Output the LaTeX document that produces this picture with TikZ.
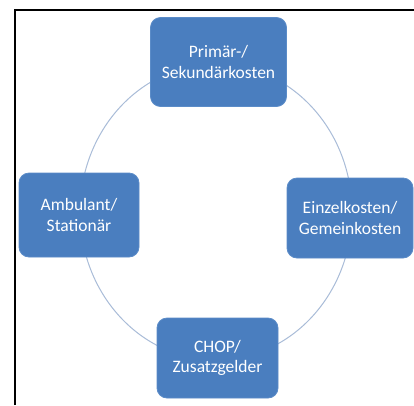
\documentclass[tikz,border=0pt]{standalone}
\usepackage{fontspec}
\setmainfont{Carlito}
\definecolor{boxblue}{HTML}{4A7EBF}
\definecolor{boxedge}{HTML}{5B8CC8}
\definecolor{ringblue}{HTML}{A9BCD8}
\begin{document}
\begin{tikzpicture}[x=1pt,y=-1pt,
  cyclebox/.style={draw=boxedge, line width=0.8pt, fill=boxblue, rounded corners=10pt,
    text=white, align=center, inner sep=0pt,
    font=\fontsize{17.5}{20.5}\selectfont},
  ring/.style={draw=ringblue, line width=1pt}]
\useasboundingbox (0,0) rectangle (414,405);
\fill[white] (0,0) rectangle (414,405);
\draw[line width=1.5pt, black] (15,405) -- (15,10) -- (414,10);
\coordinate (c) at (216,212);
\draw[ring] (c) ellipse [x radius=136, y radius=148];
\node[cyclebox, minimum width=136, minimum height=89] (top) at (218.5,62) {Primär-/\\Sekundärkosten};
\node[cyclebox, minimum width=120, minimum height=84] (left) at (79,215) {Ambulant/\\Stationär};
\node[cyclebox, minimum width=126, minimum height=80] (right) at (350,218) {Einzelkosten/\\Gemeinkosten};
\node[cyclebox, minimum width=121, minimum height=80] (bottom) at (217.5,358) {CHOP/\\Zusatzgelder};
\end{tikzpicture}
\end{document}
